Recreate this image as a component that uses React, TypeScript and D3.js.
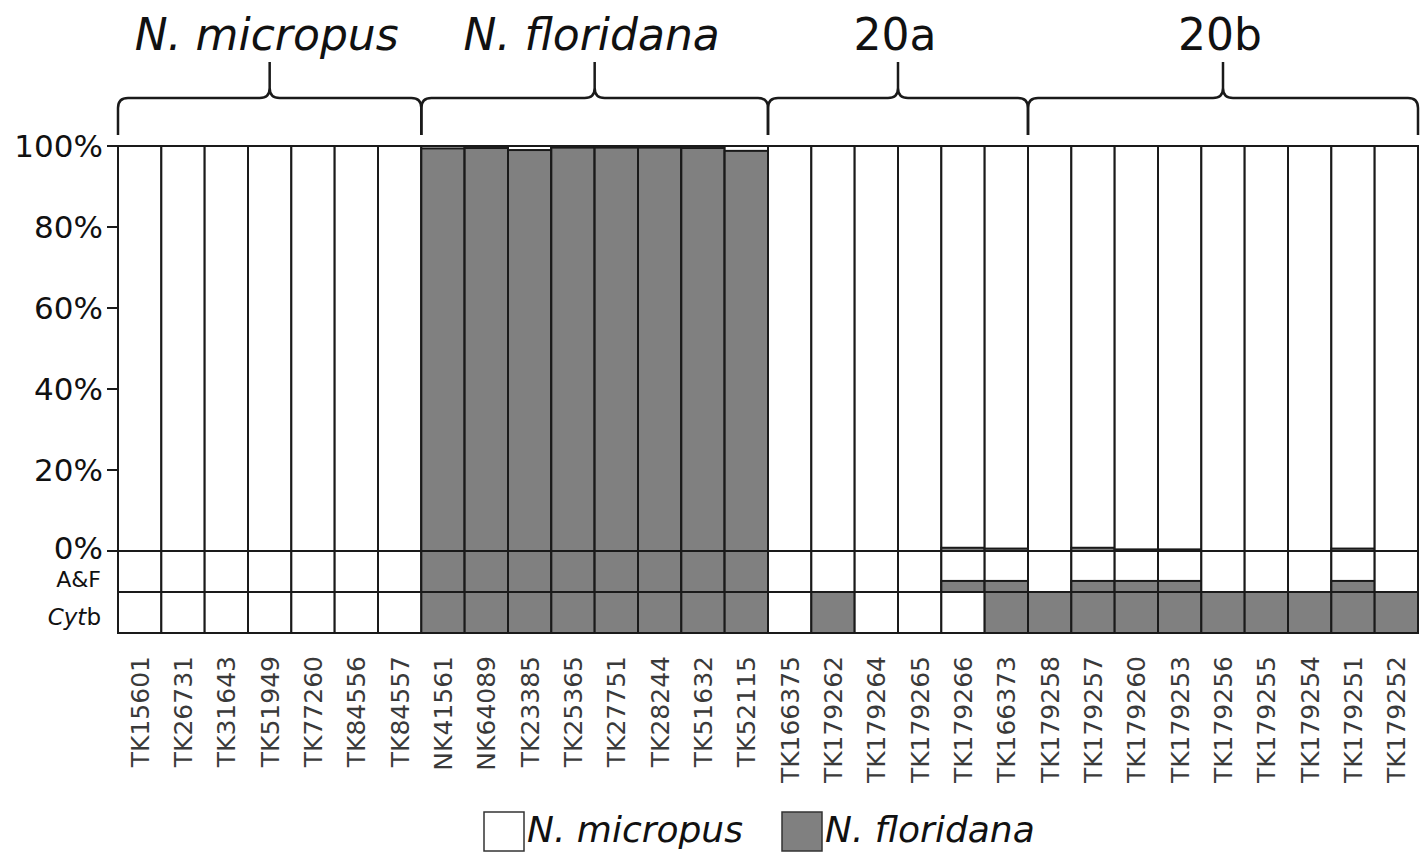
import React from "react";
import * as d3 from "d3";

const WIDTH = 1428;
const HEIGHT = 852;
const FONT = "'DejaVu Sans', Verdana, sans-serif";
const GREY = "#808080";
const INK = "#1a1a1a";

// sample ids in plot order
const samples = [
  "TK15601", "TK26731", "TK31643", "TK51949", "TK77260", "TK84556", "TK84557",
  "NK41561", "NK64089", "TK23385", "TK25365", "TK27751", "TK28244", "TK51632", "TK52115",
  "TK166375", "TK179262", "TK179264", "TK179265", "TK179266", "TK166373",
  "TK179258", "TK179257", "TK179260", "TK179253", "TK179256", "TK179255", "TK179254", "TK179251", "TK179252",
];

const groupNames = ["N. micropus", "N. floridana", "20a", "20b"];
const groupSizes = [7, 8, 6, 9];
const groupItalic = [true, true, false, false];

// % N. floridana ancestry (top panel)
const topValues = [
  0, 0, 0, 0, 0, 0, 0,
  99.4, 99.5, 99.0, 99.6, 99.6, 99.6, 99.5, 98.8,
  0, 0, 0, 0, 0.8, 0.6,
  0, 0.8, 0.4, 0.4, 0, 0, 0, 0.6, 0,
];

// A&F row: share of N. floridana
const afValues = [
  0, 0, 0, 0, 0, 0, 0,
  1, 1, 1, 1, 1, 1, 1, 1,
  0, 0, 0, 0, 0.27, 0.27,
  0, 0.27, 0.27, 0.27, 0, 0, 0, 0.27, 0,
];

// Cytb row: 1 = N. floridana haplotype
const cytbValues = [
  0, 0, 0, 0, 0, 0, 0,
  1, 1, 1, 1, 1, 1, 1, 1,
  0, 1, 0, 0, 0, 1,
  1, 1, 1, 1, 1, 1, 1, 1, 1,
];

const yTicks = [0, 20, 40, 60, 80, 100];
const legendItems = [
  { label: "N. micropus", color: "#ffffff" },
  { label: "N. floridana", color: GREY },
];

function bracePath(x0: number, x1: number, xm: number) {
  const yb = 135; // bottom of brace ends
  const yh = 98; // horizontal line
  const yt = 62; // tip
  const r = 10;
  return [
    `M${x0},${yb}`,
    `L${x0},${yh + r}`,
    `Q${x0},${yh} ${x0 + r},${yh}`,
    `L${xm - r},${yh}`,
    `Q${xm},${yh} ${xm},${yh - r}`,
    `L${xm},${yt}`,
    `M${xm},${yh - r}`,
    `Q${xm},${yh} ${xm + r},${yh}`,
    `L${x1 - r},${yh}`,
    `Q${x1},${yh} ${x1},${yh + r}`,
    `L${x1},${yb}`,
  ].join(" ");
}

export default function App() {
  const x = d3.scaleBand<string>().domain(samples).range([118, 1418]).padding(0);
  const y = d3.scaleLinear().domain([0, 100]).range([551, 146]);
  const afY = d3.scaleLinear().domain([0, 1]).range([592, 551]);
  const cyY = d3.scaleLinear().domain([0, 1]).range([633, 592]);
  const bw = x.bandwidth();

  let start = 0;
  const groups = groupNames.map((name, i) => {
    const first = samples[start];
    const last = samples[start + groupSizes[i] - 1];
    start += groupSizes[i];
    const x0 = x(first)!;
    const x1 = x(last)! + bw;
    return { name, x0, x1, xm: (x0 + x1) / 2, italic: groupItalic[i] };
  });

  return (
    <div style={{ position: "absolute", left: 0, top: 0 }}>
      <svg width={WIDTH} height={HEIGHT} style={{ display: "block", background: "#fff" }} fontFamily={FONT}>
        {/* braces and group titles */}
        {groups.map((g) => (
          <g key={g.name}>
            <path d={bracePath(g.x0, g.x1, g.xm)} fill="none" stroke={INK} strokeWidth={2.5} />
            <text x={g.xm - 3} y={50} textAnchor="middle" fontSize={44} fontStyle={g.italic ? "italic" : "normal"} fill="#111">
              {g.name}
            </text>
          </g>
        ))}

        {/* top panel bars */}
        {samples.map((s, i) => (
          <g key={s}>
            <rect x={x(s)} y={y(100)} width={bw} height={y(0) - y(100)} fill="#fff" stroke={INK} strokeWidth={2} />
            {topValues[i] > 0 && (
              <rect x={x(s)} y={y(topValues[i])} width={bw} height={y(0) - y(topValues[i])} fill={GREY} stroke={INK} strokeWidth={2} />
            )}
          </g>
        ))}

        {/* A&F row */}
        {samples.map((s, i) => (
          <g key={"af" + s}>
            <rect x={x(s)} y={afY(1)} width={bw} height={afY(0) - afY(1)} fill="#fff" stroke={INK} strokeWidth={2} />
            {afValues[i] > 0 && (
              <rect x={x(s)} y={afY(afValues[i])} width={bw} height={afY(0) - afY(afValues[i])} fill={GREY} stroke={INK} strokeWidth={2} />
            )}
          </g>
        ))}

        {/* Cytb row */}
        {samples.map((s, i) => (
          <rect key={"cy" + s} x={x(s)} y={cyY(1)} width={bw} height={cyY(0) - cyY(1)} fill={cytbValues[i] ? GREY : "#fff"} stroke={INK} strokeWidth={2} />
        ))}

        {/* y axis */}
        <line x1={118} x2={118} y1={y(100)} y2={y(0)} stroke={INK} strokeWidth={2} />
        {yTicks.map((t) => (
          <g key={t} transform={`translate(0,${y(t)})`}>
            <line x1={107} x2={118} stroke={INK} strokeWidth={2} />
            <text x={103} y={t === 0 ? -3 : 0} dy="0.36em" textAnchor="end" fontSize={31} fill="#111">
              {t}%
            </text>
          </g>
        ))}

        {/* row labels */}
        <text x={101} y={579} dy="0.36em" textAnchor="end" fontSize={22} fill="#111">
          A&amp;F
        </text>
        <text x={101} y={617} dy="0.36em" textAnchor="end" fontSize={23} fill="#111">
          <tspan fontStyle="italic">Cyt</tspan>b
        </text>

        {/* sample labels */}
        {samples.map((s) => (
          <text
            key={"lb" + s}
            transform={`translate(${x(s)! + bw / 2},656) rotate(-90)`}
            dy="0.36em"
            textAnchor="end"
            fontSize={25}
            fill="#3a3a3a"
          >
            {s}
          </text>
        ))}

        {/* legend */}
        {legendItems.map((d, i) => {
          const lx = [484, 782][i];
          return (
            <g key={d.label}>
              <rect x={lx} y={812} width={40} height={39} fill={d.color} stroke="#333" strokeWidth={1.5} />
              <text x={lx + 43} y={842} fontSize={36} fontStyle="italic" fill="#111">
                {d.label}
              </text>
            </g>
          );
        })}
      </svg>
    </div>
  );
}
